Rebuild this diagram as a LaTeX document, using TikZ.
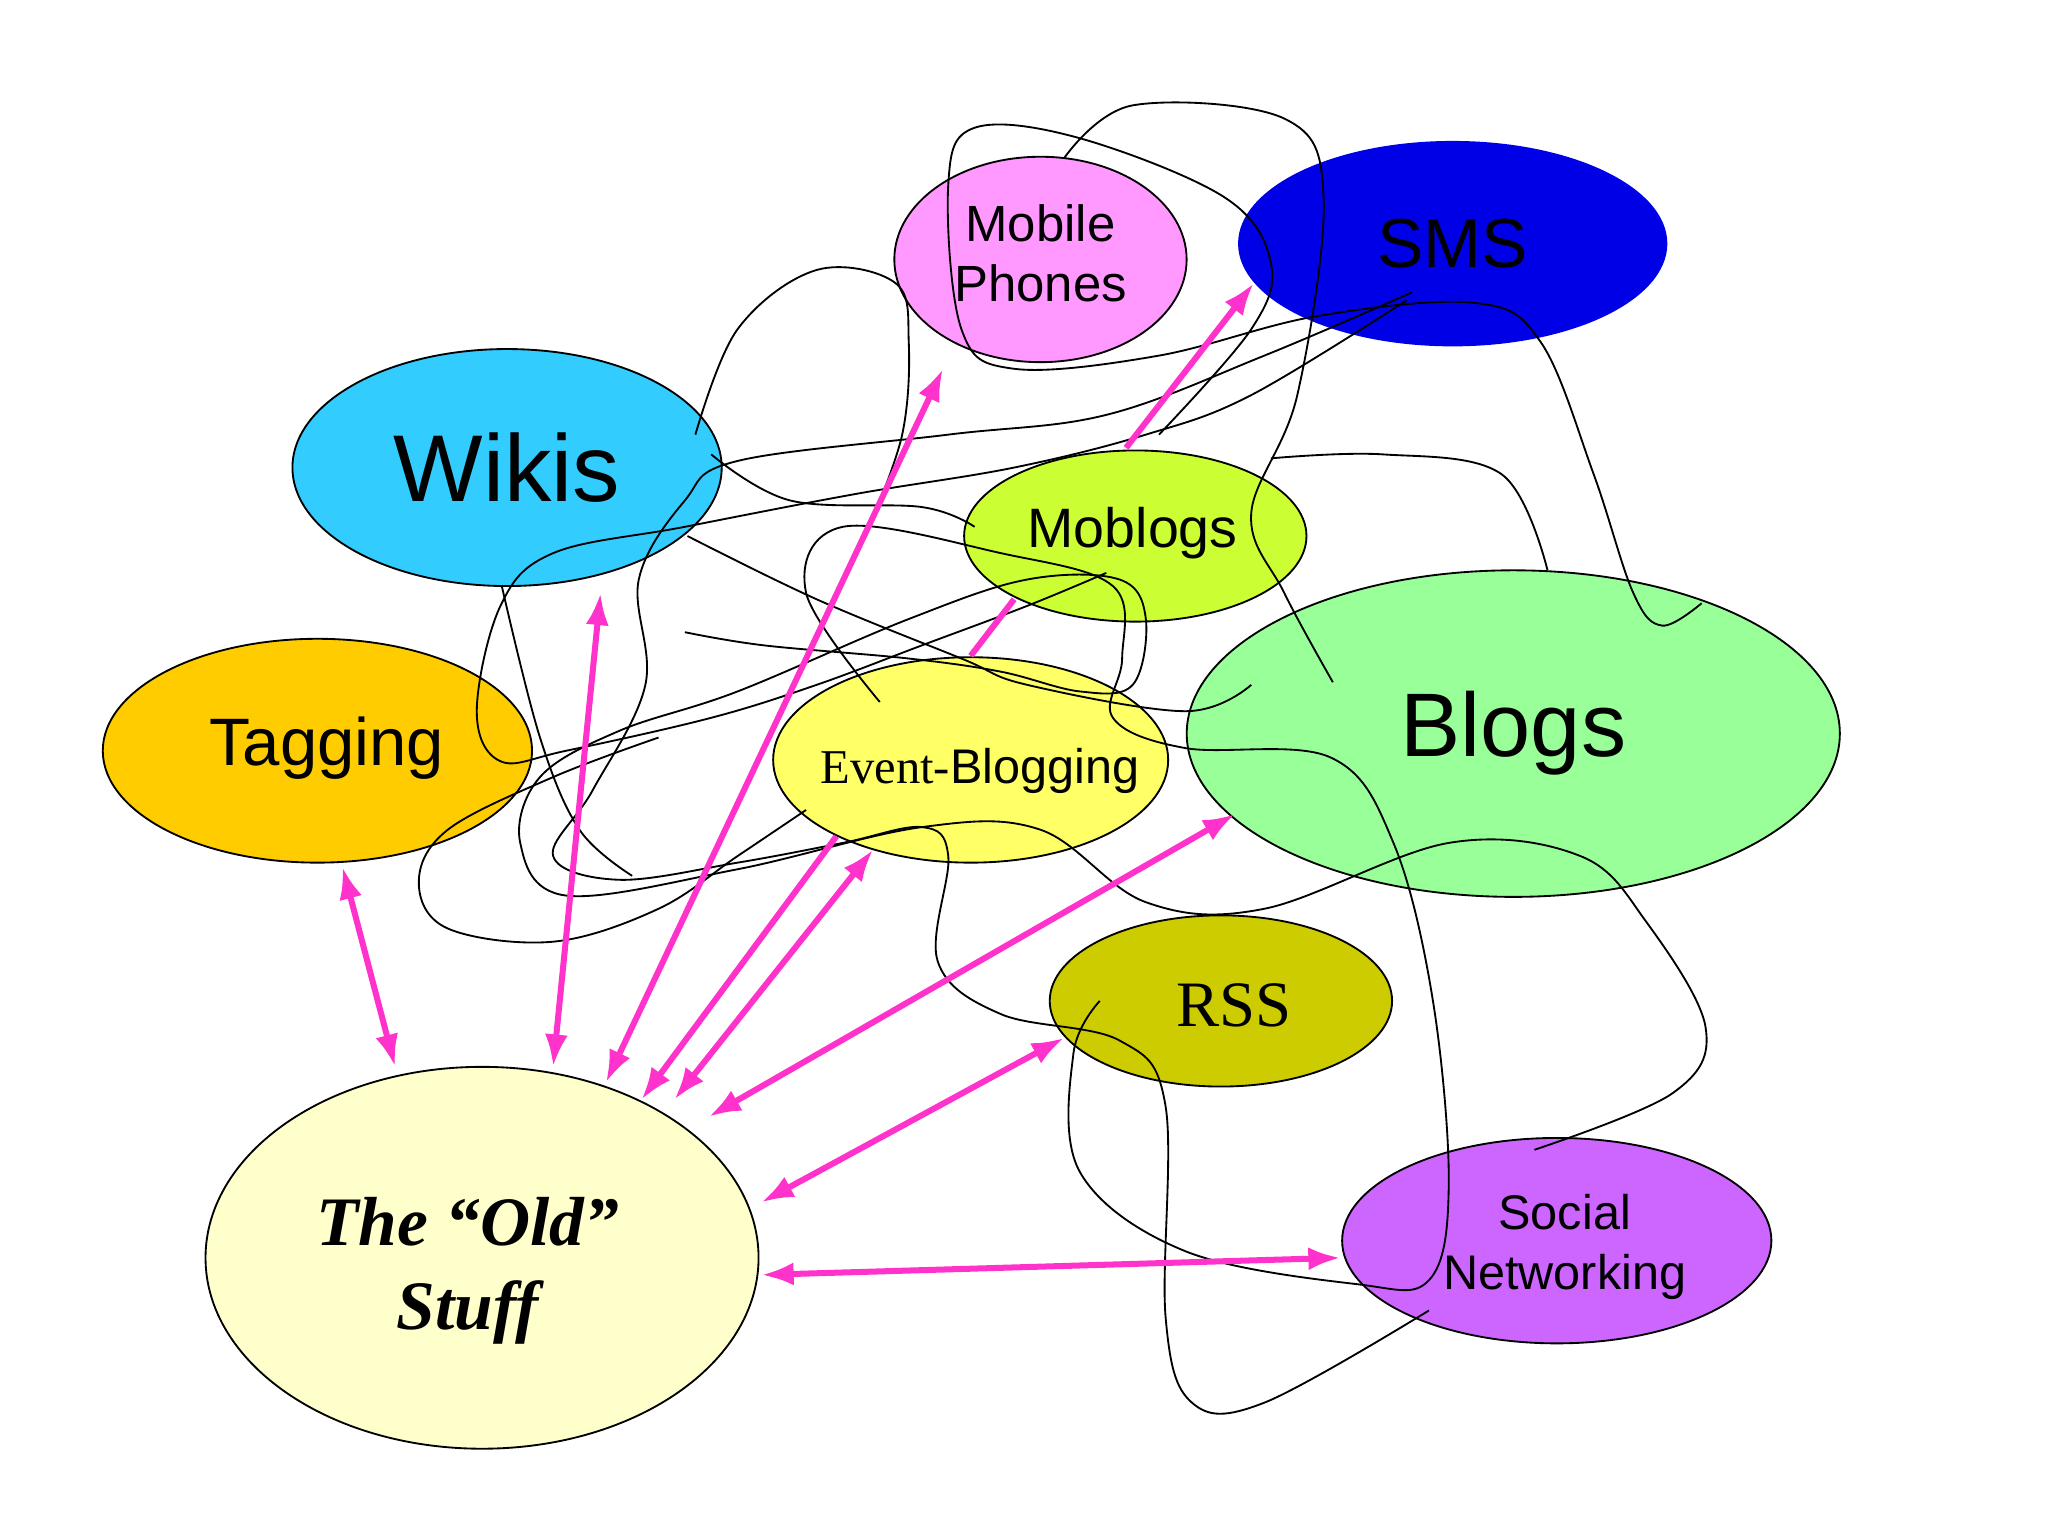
\documentclass[tikz,border=0pt]{standalone}
\usepackage{fontspec}
\setmainfont{Liberation Serif}
\setsansfont{Liberation Sans}
\usetikzlibrary{shapes.geometric,arrows.meta}
\begin{document}
\begin{tikzpicture}[x=0.02cm,y=-0.02cm,
  ell/.style={ellipse,draw=black,line width=0.8pt,inner sep=0pt},
  link/.style={draw=magenta!80!pink,line width=2.6pt,{Latex[length=14pt,width=10pt]}-{Latex[length=14pt,width=10pt]}},
  onelink/.style={draw=magenta!80!pink,line width=2.6pt,-{Latex[length=14pt,width=10pt]}},
  plain/.style={draw=magenta!80!pink,line width=2.6pt},
  scrib/.style={draw=black,line width=0.8pt}]
\definecolor{pk}{HTML}{FF33CC}
\tikzset{link/.append style={draw=pk},onelink/.append style={draw=pk},plain/.append style={draw=pk}}
\fill[white] (0,0) rectangle (1555,1166.25);
\useasboundingbox (0,0) rectangle (1555,1166.25);
% ellipses
\node[ell,fill={rgb,255:red,255;green,153;blue,255},minimum width=4.44cm,minimum height=3.12cm] (mob) at (790,197) {};
\node[ell,draw=none,fill={rgb,255:red,0;green,0;blue,230},minimum width=6.52cm,minimum height=3.12cm] (sms) at (1103,185) {};
\node[ell,fill={rgb,255:red,51;green,204;blue,255},minimum width=6.52cm,minimum height=3.6cm] (wik) at (385,355) {};
\node[ell,fill={rgb,255:red,204;green,255;blue,51},minimum width=5.2cm,minimum height=2.6cm] (mbl) at (862,407) {};
\node[ell,fill={rgb,255:red,255;green,204;blue,0},minimum width=6.52cm,minimum height=3.4cm] (tag) at (241,570) {};
\node[ell,fill={rgb,255:red,255;green,255;blue,102},minimum width=6cm,minimum height=3.12cm] (evt) at (737,577) {};
\node[ell,fill={rgb,255:red,153;green,255;blue,153},minimum width=9.92cm,minimum height=4.96cm] (blg) at (1149,557) {};
\node[ell,fill={rgb,255:red,204;green,204;blue,0},minimum width=5.2cm,minimum height=2.6cm] (rss) at (927,760) {};
\node[ell,fill={rgb,255:red,255;green,255;blue,204},minimum width=8.4cm,minimum height=5.8cm] (old) at (366,955) {};
\node[ell,fill={rgb,255:red,204;green,102;blue,255},minimum width=6.52cm,minimum height=3.12cm] (soc) at (1182,942) {};
% scribbles
\draw[scrib] plot[smooth,tension=0.6] coordinates {(668,533) (612,450) (640,400) (760,420) (845,445) (852,500) (845,545) (900,568) (1010,575) (1058,640) (1088,760) (1100,900) (1085,972) (1030,975) (900,950) (820,890) (815,800) (835,760)};
\draw[scrib] plot[smooth,tension=0.6] coordinates {(1012,518) (975,450) (950,390) (985,300) (1005,150) (975,90) (860,80) (808,120)};
\draw[scrib] plot[smooth,tension=0.6] coordinates {(1292,458) (1262,475) (1240,450) (1210,360) (1170,260) (1120,230) (1000,240) (880,270) (770,280) (730,250) (720,140) (740,97) (820,105) (930,150) (965,200) (950,250) (880,330)};
\draw[scrib] plot[smooth,tension=0.6] coordinates {(1072,222) (960,270) (840,315) (720,330) (560,350) (520,380) (485,440) (490,520) (450,600) (420,650) (470,668) (560,655) (640,640) (700,628) (720,650) (712,730) (760,770) (850,790) (885,840) (885,1000) (905,1065) (960,1065) (1085,995)};
\draw[scrib] plot[smooth,tension=0.6] coordinates {(1165,873) (1270,830) (1295,780) (1250,700) (1200,650) (1100,640) (960,690) (870,685) (790,630) (700,628) (560,660) (430,680) (395,640) (410,590) (470,555) (560,525) (690,470) (780,440) (850,440) (870,470) (860,520) (820,525) (760,510) (690,500) (580,490) (520,480)};
\draw[scrib] plot[smooth,tension=0.6] coordinates {(522,407) (620,455) (730,500) (780,520) (900,540) (950,520)};
\draw[scrib] plot[smooth,tension=0.6] coordinates {(381,445) (410,560) (440,630) (480,665)};
\draw[scrib] plot[smooth,tension=0.6] coordinates {(1068,228) (950,300) (870,330) (770,355) (650,375) (520,400) (420,420) (380,460) (362,540) (380,578) (430,570) (540,545) (620,520) (700,490) (780,460) (840,435)};
\draw[scrib] plot[smooth,tension=0.6] coordinates {(540,345) (600,380) (700,385) (740,400)};
\draw[scrib] plot[smooth,tension=0.6] coordinates {(528,330) (560,250) (620,205) (680,215) (690,260) (685,330) (660,400)};
\draw[scrib] plot[smooth,tension=0.6] coordinates {(612,615) (560,650) (500,690) (420,715) (340,705) (318,670) (340,630) (420,590) (500,560)};
\draw[scrib] plot[smooth,tension=0.6] coordinates {(965,348) (1050,345) (1140,360) (1175,433)};
% text
\node at (mob) {\sffamily\fontsize{22}{26}\selectfont\begin{tabular}{c}Mobile\\Phones\end{tabular}};
\node at (sms) {\sffamily\fontsize{30}{34}\selectfont SMS};
\node at (wik) {\sffamily\fontsize{41}{46}\selectfont Wikis};
\node at (860,405) {\sffamily\fontsize{24}{28}\selectfont Moblogs};
\node at (248,568) {\sffamily\fontsize{29}{33}\selectfont Tagging};
\node at (744,585) {\fontsize{21}{25}\selectfont Event-\sffamily Blogging};
\node at (blg) {\sffamily\fontsize{39}{44}\selectfont Blogs};
\node at (937,763) {\fontsize{28}{32}\selectfont RSS};
\node at (355,965) {\fontsize{30}{36}\selectfont\bfseries\itshape\begin{tabular}{c}The “Old”\\Stuff\end{tabular}};
\node at (1188,947) {\sffamily\fontsize{21}{26}\selectfont\begin{tabular}{c}Social\\Networking\end{tabular}};
% arrow endpoints
\coordinate (t1) at (260,658); \coordinate (o1) at (300,810);
\coordinate (w1) at (456,450); \coordinate (o2) at (420,810);
\coordinate (m1) at (716,280); \coordinate (o3) at (460,822);
\coordinate (e1) at (635,635); \coordinate (o4) at (487,835);
\coordinate (e2) at (663,645); \coordinate (o5) at (512,835);
\coordinate (b1) at (938,618); \coordinate (o6) at (538,848);
\coordinate (r1) at (808,788); \coordinate (o7) at (578,913);
\coordinate (s1) at (1018,955); \coordinate (o8) at (578,968);
\coordinate (mb1) at (770,455); \coordinate (ev1) at (737,498);
\coordinate (mb2) at (855,340); \coordinate (sm1) at (952,215);
\draw[link] (t1) -- (o1);
\draw[link] (w1) -- (o2);
\draw[link] (m1) -- (o3);
\draw[onelink] (e1) -- (o4);
\draw[link] (e2) -- (o5);
\draw[link] (b1) -- (o6);
\draw[link] (r1) -- (o7);
\draw[link] (s1) -- (o8);
\draw[plain] (mb1) -- (ev1);
\draw[onelink] (mb2) -- (sm1);
\end{tikzpicture}
\end{document}
